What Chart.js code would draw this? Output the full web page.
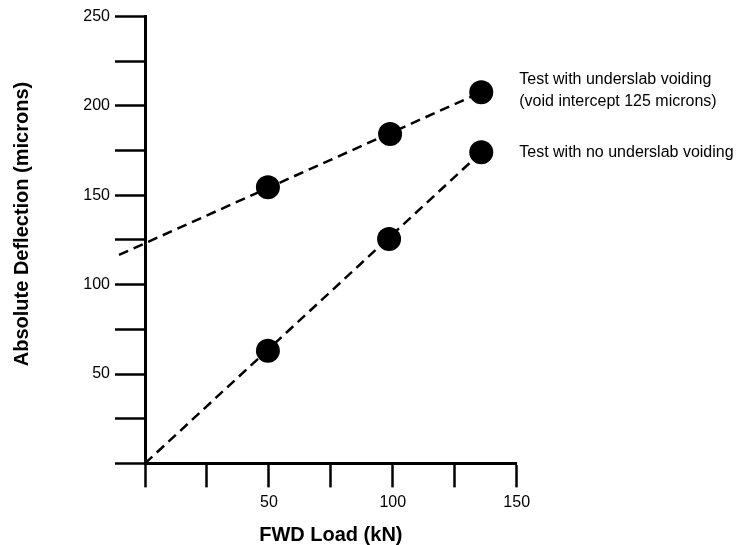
<!DOCTYPE html>
<html>
<head>
<meta charset="utf-8">
<script src="https://cdn.jsdelivr.net/npm/chart.js@4/dist/chart.umd.min.js"></script>
<style>
  html, body { margin: 0; padding: 0; background: #fff; }
  #wrap { width: 750px; height: 545px; position: relative; }
</style>
</head>
<body>
<div id="wrap"><canvas id="chart"></canvas></div>
<script>
'use strict';

// ---------------------------------------------------- //
// Data
// ---------------------------------------------------- //
var loadsVoid = [49.6, 98.9, 135.7];
var deflVoid = [154.4, 184.2, 207.6];
var loadsNoVoid = [49.6, 98.5, 135.7];
var deflNoVoid = [63.0, 125.5, 174.0];

// dashed trend lines (end points)
var fitVoidX = [-10.5, 135.7];
var fitVoidY = [116.6, 207.6];
var fitNoVoidX = [0, 135.7];
var fitNoVoidY = [0, 174.0];

var xTickLabels = [50, 100, 150];
var yTickLabels = [50, 100, 150, 200, 250];
var seriesNotes = [
    ['Test with underslab voiding', '(void intercept 125 microns)'],
    ['Test with no underslab voiding']
];

var FONT = "'Liberation Sans', Arial, Helvetica, sans-serif";

function pairs(xs, ys) {
    return xs.map(function(x, i) { return {x: x, y: ys[i]}; });
}

// text beside the last point of each series, plus the y title
var notesPlugin = {
    id: 'notes',
    afterDraw: function(chart) {
        var ctx = chart.ctx;
        var xs = chart.scales.x, ys = chart.scales.y;
        ctx.save();
        ctx.fillStyle = '#000';
        ctx.font = '16px ' + FONT;
        ctx.textAlign = 'left';
        ctx.textBaseline = 'middle';
        var ends = [
            {x: loadsVoid[2], y: deflVoid[2], dy: [-13, 9]},
            {x: loadsNoVoid[2], y: deflNoVoid[2], dy: [0]}
        ];
        ends.forEach(function(e, i) {
            var px = xs.getPixelForValue(e.x) + 38;
            var py = ys.getPixelForValue(e.y);
            seriesNotes[i].forEach(function(line, j) {
                ctx.fillText(line, px, py + e.dy[j]);
            });
        });

        ctx.translate(22, 224);
        ctx.rotate(-Math.PI / 2);
        ctx.textAlign = 'center';
        ctx.font = 'bold 20px ' + FONT;
        ctx.fillText('Absolute Deflection (microns)', 0, 0);
        ctx.restore();
    }
};

new Chart(document.getElementById('chart'), {
    type: 'scatter',
    data: {
        datasets: [{
            data: pairs(loadsVoid, deflVoid),
            pointRadius: 12,
            pointHoverRadius: 12,
            backgroundColor: '#000',
            borderWidth: 0
        }, {
            data: pairs(loadsNoVoid, deflNoVoid),
            pointRadius: 12,
            pointHoverRadius: 12,
            backgroundColor: '#000',
            borderWidth: 0
        }, {
            data: pairs(fitVoidX, fitVoidY),
            showLine: true,
            pointRadius: 0,
            borderColor: '#000',
            borderWidth: 2.5,
            borderDash: [10, 6],
            clip: false
        }, {
            data: pairs(fitNoVoidX, fitNoVoidY),
            showLine: true,
            pointRadius: 0,
            borderColor: '#000',
            borderWidth: 2.5,
            borderDash: [10, 6],
            clip: false
        }]
    },
    options: {
        responsive: true,
        maintainAspectRatio: false,
        animation: false,
        events: [],
        layout: {
            padding: {top: 16.4, right: 233.3, bottom: 0, left: 0}
        },
        plugins: {
            legend: {display: false},
            tooltip: {enabled: false}
        },
        scales: {
            x: {
                type: 'linear',
                min: 0,
                max: 150,
                afterFit: function(scale) { scale.height = 81.6; },
                border: {display: true, color: '#000', width: 3},
                grid: {
                    drawOnChartArea: false,
                    drawTicks: true,
                    tickLength: 24,
                    tickWidth: 2.5,
                    tickColor: '#000'
                },
                ticks: {
                    stepSize: 25,
                    autoSkip: false,
                    maxRotation: 0,
                    padding: 6,
                    color: '#000',
                    font: {family: FONT, size: 16},
                    callback: function(v) {
                        return xTickLabels.indexOf(v) >= 0 ? String(v) : '';
                    }
                },
                title: {
                    display: true,
                    text: 'FWD Load (kN)',
                    color: '#000',
                    font: {family: FONT, size: 20, weight: 'bold', lineHeight: 1},
                    padding: {top: 0, bottom: 0}
                }
            },
            y: {
                type: 'linear',
                min: 0,
                max: 250,
                afterFit: function(scale) { scale.width = 145; },
                border: {display: true, color: '#000', width: 3},
                grid: {
                    drawOnChartArea: false,
                    drawTicks: true,
                    tickLength: 30,
                    tickWidth: 2.5,
                    tickColor: '#000'
                },
                ticks: {
                    stepSize: 25,
                    autoSkip: false,
                    padding: 5,
                    color: '#000',
                    font: {family: FONT, size: 16},
                    callback: function(v) {
                        return yTickLabels.indexOf(v) >= 0 ? String(v) : '';
                    }
                }
            }
        }
    },
    plugins: [notesPlugin]
});
</script>
</body>
</html>
